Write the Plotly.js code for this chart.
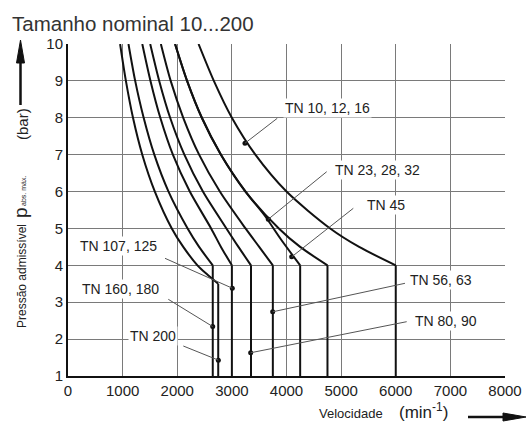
<!DOCTYPE html>
<html><head><meta charset="utf-8">
<script src="https://cdn.plot.ly/plotly-3.0.1.min.js"></script>
<style>html,body{margin:0;padding:0;background:#fff}#chart{width:528px;height:427px}</style>
</head><body><div id="chart"></div>
<script>
// ---- data ----
const tn10_n = [2390, 2670, 3000, 3430, 4000, 4800, 5330, 6000, 6000];
const tn10_p = [10, 9, 8, 7, 6, 5, 4.5, 4, 1];
const tn23_n = [1960, 2180, 2450, 2800, 3250, 3860, 4250, 4750, 4750];
const tn23_p = [10, 9, 8, 7, 6, 5, 4.5, 4, 1];
const tn45_n = [1960, 2180, 2450, 2800, 3250, 3600, 3900, 4250, 4250];
const tn45_p = [10, 9, 8, 7, 6, 5.35, 4.7, 4, 1];
const tn56_n = [1700, 1880, 2110, 2400, 2780, 3250, 3500, 3750, 3750];
const tn56_p = [10, 9, 8, 7, 6, 5, 4.5, 4, 1];
const tn80_n = [1505, 1670, 1870, 2130, 2470, 2900, 3120, 3350, 3350];
const tn80_p = [10, 9, 8, 7, 6, 5, 4.5, 4, 1];
const tn107_n = [1360, 1510, 1690, 1920, 2230, 2620, 2800, 3000, 3000];
const tn107_p = [10, 9, 8, 7, 6, 5, 4.5, 4, 1];
const tn160_n = [1107, 1230, 1385, 1580, 1840, 2190, 2400, 2650, 2650];
const tn160_p = [10, 9, 8, 7, 6, 5, 4.5, 4, 1];
const tn200_n = [954, 1060, 1190, 1360, 1590, 1900, 2110, 2370, 2550, 2750, 2750];
const tn200_p = [10, 9, 8, 7, 6, 5, 4.5, 4, 3.75, 3.5, 1];

const seriesNames = ['TN 10, 12, 16', 'TN 23, 28, 32', 'TN 45', 'TN 56, 63', 'TN 80, 90', 'TN 107, 125', 'TN 160, 180', 'TN 200'];
// points where each label's leader line touches its curve
const dot_n = [3240, 3667, 4095, 3747, 3344, 3008, 2649, 2752];
const dot_p = [7.31, 5.25, 4.23, 2.74, 1.63, 3.38, 2.34, 1.43];

const xTickVals = [0, 1000, 2000, 3000, 4000, 5000, 6000, 7000, 8000];
const xTickText = ['0', '1000', '2000', '3000', '4000', '5000', '6000', '7000', '8000'];
const yTickVals = [1, 2, 3, 4, 5, 6, 7, 8, 9, 10];
const yTickText = ['1', '2', '3', '4', '5', '6', '7', '8', '9', '10'];

const titleText = 'Tamanho nominal 10...200';
const xTitleA = 'Velocidade';
const xTitleB = '(min<sup>-1</sup>)';
const yTitleA = 'Pressão admissível';
const yTitleP = 'p';
const yTitleSub = 'abs. máx.';
const yTitleC = '(bar)';

// ---- build ----
const FONT = 'Liberation Sans, Arial, Helvetica, sans-serif';
const series = [
  [tn10_n, tn10_p], [tn23_n, tn23_p], [tn45_n, tn45_p], [tn56_n, tn56_p],
  [tn80_n, tn80_p], [tn107_n, tn107_p], [tn160_n, tn160_p], [tn200_n, tn200_p]
];
const traces = [];
series.forEach(([n, p], i) => {
  traces.push({
    x: n.slice(0, -1), y: p.slice(0, -1), type: 'scatter', mode: 'lines',
    line: {color: '#111', width: 2, shape: 'spline', smoothing: 0.8},
    name: seriesNames[i], hoverinfo: 'skip', showlegend: false
  });
  traces.push({
    x: n.slice(-2), y: p.slice(-2), type: 'scatter', mode: 'lines',
    line: {color: '#111', width: 2},
    name: seriesNames[i], hoverinfo: 'skip', showlegend: false
  });
});
traces.push({
  x: dot_n, y: dot_p, type: 'scatter', mode: 'markers',
  marker: {color: '#111', size: 5}, hoverinfo: 'skip', showlegend: false
});

// label placement (left edge, middle) and leader start points
const labelPos = [
  {x: 3936, y: 8.265, lx: 3831, ly: 7.986},
  {x: 4857, y: 6.584, lx: 4736, ly: 6.538},
  {x: 5437, y: 5.636, lx: 5223, ly: 5.546},
  {x: 6230, y: 3.602, lx: 6169, ly: 3.513},
  {x: 6321, y: 2.491, lx: 6200, ly: 2.472},
  {x: 189,  y: 4.524, lx: 1776, ly: 4.19},
  {x: 220,  y: 3.35,  lx: 1836, ly: 3.079},
  {x: 1104, y: 2.084, lx: 2111, ly: 1.813}
];

const shapes = [];
const annotations = [];
labelPos.forEach((L, i) => {
  shapes.push({type: 'line', xref: 'x', yref: 'y', x0: L.lx, y0: L.ly, x1: dot_n[i], y1: dot_p[i],
    line: {color: '#555', width: 1}, layer: 'above'});
  annotations.push({xref: 'x', yref: 'y', x: L.x, y: L.y, xanchor: 'left', yanchor: 'middle',
    text: seriesNames[i], showarrow: false, bgcolor: '#fff', borderpad: 1,
    font: {family: FONT, size: 14, color: '#222'}});
});

// axis title pieces (paper coords; plot area px: x 68..505, y 44..376)
const px = v => (v - 68) / 437;
const py = v => (376 - v) / 332;
annotations.push({xref: 'paper', yref: 'paper', x: px(22), y: py(276), textangle: -90,
  xanchor: 'center', yanchor: 'middle', showarrow: false, text: yTitleA,
  font: {family: FONT, size: 12, color: '#222'}});
annotations.push({xref: 'paper', yref: 'paper', x: px(20), y: py(213), textangle: -90,
  xanchor: 'center', yanchor: 'middle', showarrow: false, text: yTitleP,
  font: {family: FONT, size: 19, color: '#222'}});
annotations.push({xref: 'paper', yref: 'paper', x: px(24), y: py(191), textangle: -90,
  xanchor: 'center', yanchor: 'middle', showarrow: false, text: yTitleSub,
  font: {family: FONT, size: 7, color: '#222'}});
annotations.push({xref: 'paper', yref: 'paper', x: px(22), y: py(124), textangle: -90,
  xanchor: 'center', yanchor: 'middle', showarrow: false, text: yTitleC,
  font: {family: FONT, size: 15, color: '#222'}});
annotations.push({xref: 'paper', yref: 'paper', x: px(351), y: py(413),
  xanchor: 'center', yanchor: 'middle', showarrow: false, text: xTitleA,
  font: {family: FONT, size: 13, color: '#222'}});
annotations.push({xref: 'paper', yref: 'paper', x: px(423), y: py(411),
  xanchor: 'center', yanchor: 'middle', showarrow: false, text: xTitleB,
  font: {family: FONT, size: 17, color: '#222'}});

// arrows
shapes.push({type: 'line', xref: 'paper', yref: 'paper', x0: px(20.5), y0: py(105), x1: px(20.5), y1: py(58),
  line: {color: '#111', width: 2.5}});
shapes.push({type: 'path', xref: 'paper', yref: 'paper',
  path: `M ${px(20.5)} ${py(40)} L ${px(16.5)} ${py(63)} L ${px(24.5)} ${py(63)} Z`,
  fillcolor: '#111', line: {color: '#111', width: 1}});
shapes.push({type: 'line', xref: 'paper', yref: 'paper', x0: px(468), y0: py(417), x1: px(508), y1: py(417),
  line: {color: '#111', width: 2.5}});
shapes.push({type: 'path', xref: 'paper', yref: 'paper',
  path: `M ${px(526)} ${py(417)} L ${px(503)} ${py(413)} L ${px(503)} ${py(421)} Z`,
  fillcolor: '#111', line: {color: '#111', width: 1}});

const axisCommon = {
  showgrid: true, gridcolor: '#7a7a7a', gridwidth: 1, zeroline: false,
  showline: true, linecolor: '#111', linewidth: 2, ticks: '',
  tickfont: {family: FONT, size: 15, color: '#222'}, fixedrange: true
};

const layout = {
  width: 528, height: 427,
  margin: {l: 68, r: 23, t: 44, b: 51, pad: 0},
  paper_bgcolor: '#fff', plot_bgcolor: '#fff',
  title: {text: titleText, x: 12 / 528, xanchor: 'left', xref: 'container',
    y: 1 - 24 / 427, yanchor: 'middle', yref: 'container',
    font: {family: FONT, size: 20.5, color: '#333'}},
  xaxis: Object.assign({}, axisCommon, {range: [0, 8000], tickmode: 'array', tickvals: xTickVals, ticktext: xTickText}),
  yaxis: Object.assign({}, axisCommon, {range: [1, 10], tickmode: 'array', tickvals: yTickVals, ticktext: yTickText}),
  shapes: shapes,
  annotations: annotations,
  showlegend: false
};

Plotly.newPlot('chart', traces, layout, {displayModeBar: false, staticPlot: true});
</script>
</body></html>
